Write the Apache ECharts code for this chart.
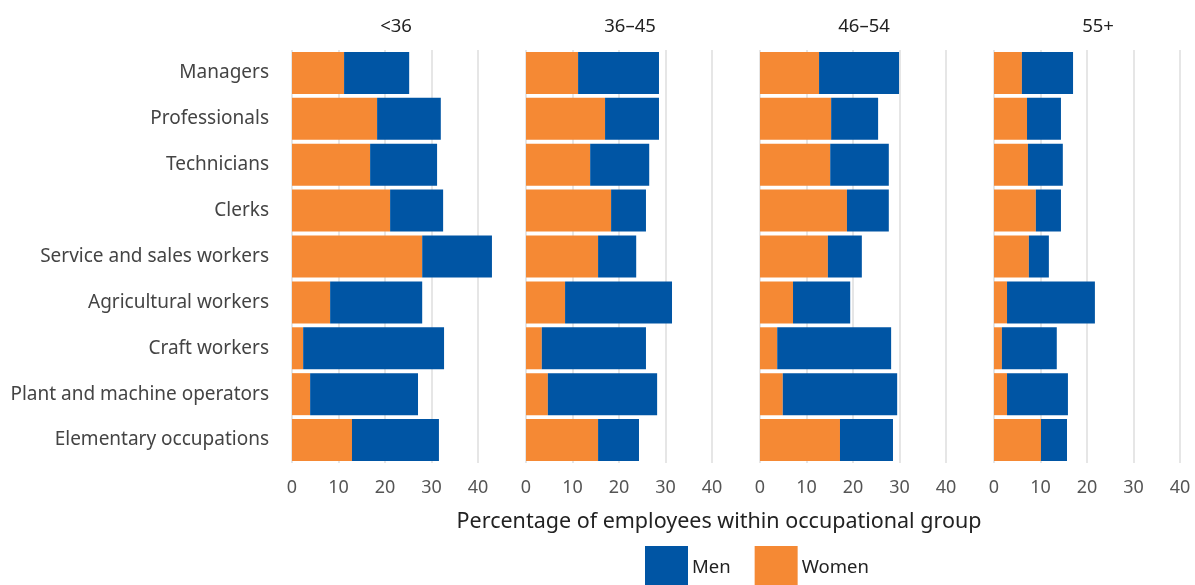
<!DOCTYPE html>
<html lang="en">
<head>
    <meta charset="UTF-8">
    <title>Occupational group by age</title>
    <script type="text/javascript" src="https://cdn.jsdelivr.net/npm/echarts@6/dist/echarts.min.js"></script>
    <style>
        html, body { margin: 0; padding: 0; background: #fff; }
        #chart { width: 1195px; height: 585px; }
    </style>
</head>
<body>
<div id="chart"></div>
<script type="text/javascript">
// data (percent)
var categories = ['Managers', 'Professionals', 'Technicians', 'Clerks', 'Service and sales workers',
    'Agricultural workers', 'Craft workers', 'Plant and machine operators', 'Elementary occupations'];
var ageGroups = ['<36', '36\u201345', '46\u201354', '55+'];
var women = [
    [11.2, 18.3, 16.8, 21.1, 28.0, 8.2, 2.4, 3.9, 12.9],
    [11.2, 17.0, 13.8, 18.3, 15.5, 8.4, 3.4, 4.7, 15.5],
    [12.7, 15.3, 15.1, 18.7, 14.6, 7.1, 3.7, 4.9, 17.2],
    [6.0, 7.1, 7.3, 9.0, 7.5, 2.8, 1.7, 2.8, 10.1]
];
var men = [
    [14.0, 13.7, 14.4, 11.4, 15.0, 19.8, 30.3, 23.2, 18.7],
    [17.4, 11.6, 12.7, 7.5, 8.2, 23.0, 22.4, 23.5, 8.8],
    [17.2, 10.1, 12.6, 9.0, 7.3, 12.3, 24.5, 24.6, 11.4],
    [11.0, 7.3, 7.5, 5.4, 4.3, 18.9, 11.8, 13.1, 5.6]
];
var xTicks = [0, 10, 20, 30, 40];

var font = '"Noto Sans", sans-serif';
var orange = '#F58934';
var blue = '#0055A4';

var chart = echarts.init(document.getElementById('chart'));

var grids = [], xAxes = [], yAxes = [], series = [], titles = [];
var lefts = [292, 526, 760, 994];
for (var i = 0; i < ageGroups.length; i++) {
    grids.push({left: lefts[i], width: 186, top: 50, height: 413});
    xAxes.push({
        type: 'value', gridIndex: i, min: xTicks[0], max: xTicks[xTicks.length - 1], interval: 10,
        axisLine: {show: false}, axisTick: {show: false},
        axisLabel: {color: '#555', fontSize: 18, fontFamily: font, margin: 16},
        splitLine: {show: true, lineStyle: {color: '#E6E6E6', width: 2}}
    });
    yAxes.push({
        type: 'category', gridIndex: i, data: categories, inverse: true,
        axisLine: {show: false}, axisTick: {show: false},
        axisLabel: {show: i === 0, color: '#444', fontSize: 19, fontFamily: font, margin: 23},
        splitLine: {show: false}
    });
    series.push({
        name: 'Women', type: 'bar', stack: 'g' + i, xAxisIndex: i, yAxisIndex: i,
        data: women[i], barWidth: 42, clip: false,
        itemStyle: {color: orange}
    });
    series.push({
        name: 'Men', type: 'bar', stack: 'g' + i, xAxisIndex: i, yAxisIndex: i,
        data: men[i], barWidth: 42, clip: false,
        itemStyle: {color: blue}
    });
    titles.push({
        text: ageGroups[i], left: lefts[i] + 99, top: 12, textAlign: 'center',
        textStyle: {color: '#222', fontSize: 18.5, fontWeight: 'normal', fontFamily: font}
    });
}
titles.push({
    text: 'Percentage of employees within occupational group', left: 714, top: 506, textAlign: 'center',
    textStyle: {color: '#222', fontSize: 21.5, fontWeight: 'normal', fontFamily: font}
});

var option = {
    animation: false,
    backgroundColor: '#fff',
    title: titles,
    legend: {
        data: ['Men', 'Women'], left: 640, top: 541,
        itemWidth: 43, itemHeight: 43, itemGap: 24, icon: 'rect',
        textStyle: {color: '#222', fontSize: 18.5, fontFamily: font, padding: [0, 0, 0, -1]}
    },
    grid: grids,
    xAxis: xAxes,
    yAxis: yAxes,
    series: series
};
chart.setOption(option);
</script>
</body>
</html>
